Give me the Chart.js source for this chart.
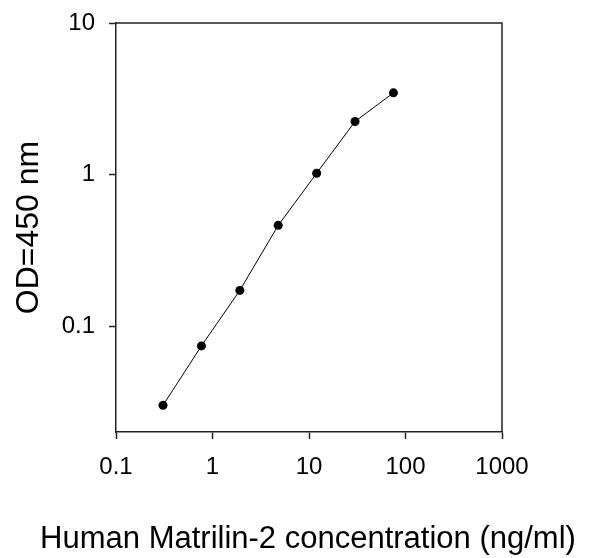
<!DOCTYPE html>
<html>
<head>
<meta charset="utf-8">
<script src="https://cdn.jsdelivr.net/npm/chart.js@4/dist/chart.umd.min.js"></script>
<style>
  body { margin: 0; background: #fff; }
  canvas { display: block; }
</style>
</head>
<body>
<canvas id="chart" width="596" height="558"></canvas>
<script>
// Data
const concentrations = [0.307, 0.768, 1.92, 4.8, 12, 30, 75];
const odValues = [0.030, 0.074, 0.172, 0.462, 1.02, 2.24, 3.46];

const xTicks = [0.1, 1, 10, 100, 1000];
const yTicks = [0.1, 1, 10];

const xTitle = 'Human Matrilin-2 concentration (ng/ml)';
const yTitle = 'OD=450 nm';

const axisColor = '#222';
const fontFamily = '"Liberation Sans", Arial, sans-serif';

// Top and right frame lines, plus axis titles (drawn here so they are not squeezed to the axis length)
const framePlugin = {
  id: 'frame',
  afterDraw(chart) {
    const { ctx, chartArea: a } = chart;
    ctx.save();
    ctx.strokeStyle = axisColor;
    ctx.lineWidth = 1.5;
    ctx.beginPath();
    ctx.moveTo(a.left, a.top);
    ctx.lineTo(a.right, a.top);
    ctx.lineTo(a.right, a.bottom);
    ctx.stroke();

    ctx.fillStyle = '#000';
    ctx.textAlign = 'center';
    ctx.textBaseline = 'middle';
    ctx.font = '31px ' + fontFamily;
    ctx.fillText(xTitle, (a.left + a.right) / 2 - 1, 539);

    ctx.translate(29, (a.top + a.bottom) / 2);
    ctx.rotate(-Math.PI / 2);
    ctx.font = '32px ' + fontFamily;
    ctx.fillText(yTitle, 0, 0);
    ctx.restore();
  }
};

const points = concentrations.map((c, i) => ({ x: c, y: odValues[i] }));

new Chart(document.getElementById('chart'), {
  type: 'scatter',
  data: {
    datasets: [{
      data: points,
      showLine: true,
      borderColor: '#000',
      borderWidth: 1,
      backgroundColor: '#000',
      pointRadius: 4.5,
      pointBorderWidth: 0
    }]
  },
  options: {
    responsive: false,
    animation: false,
    layout: { padding: { top: 23, right: 94, left: 0, bottom: 0 } },
    plugins: {
      legend: { display: false },
      tooltip: { enabled: false }
    },
    scales: {
      x: {
        type: 'logarithmic',
        min: 0.1,
        max: 1000,
        afterBuildTicks: scale => { scale.ticks = xTicks.map(v => ({ value: v })); },
        afterFit: scale => { scale.height = 126; },
        ticks: {
          color: '#000',
          font: { family: fontFamily, size: 24 },
          padding: 14,
          maxRotation: 0,
          autoSkip: false,
          callback: v => v.toString()
        },
        grid: { drawOnChartArea: false, drawTicks: true, tickLength: 7, tickWidth: 1.5, color: axisColor },
        border: { display: true, color: axisColor, width: 1.5 },
        title: { display: false }
      },
      y: {
        type: 'logarithmic',
        min: 0.02,
        max: 10,
        afterBuildTicks: scale => { scale.ticks = yTicks.map(v => ({ value: v })); },
        afterFit: scale => {
          scale.width = 116;
          scale.paddingTop = 0;
          scale.paddingBottom = 0;
        },
        ticks: {
          color: '#000',
          font: { family: fontFamily, size: 24 },
          padding: 14,
          autoSkip: false,
          callback: v => v.toString()
        },
        grid: { drawOnChartArea: false, drawTicks: true, tickLength: 7, tickWidth: 1.5, color: axisColor },
        border: { display: true, color: axisColor, width: 1.5 },
        title: { display: false }
      }
    }
  },
  plugins: [framePlugin]
});
</script>
</body>
</html>
